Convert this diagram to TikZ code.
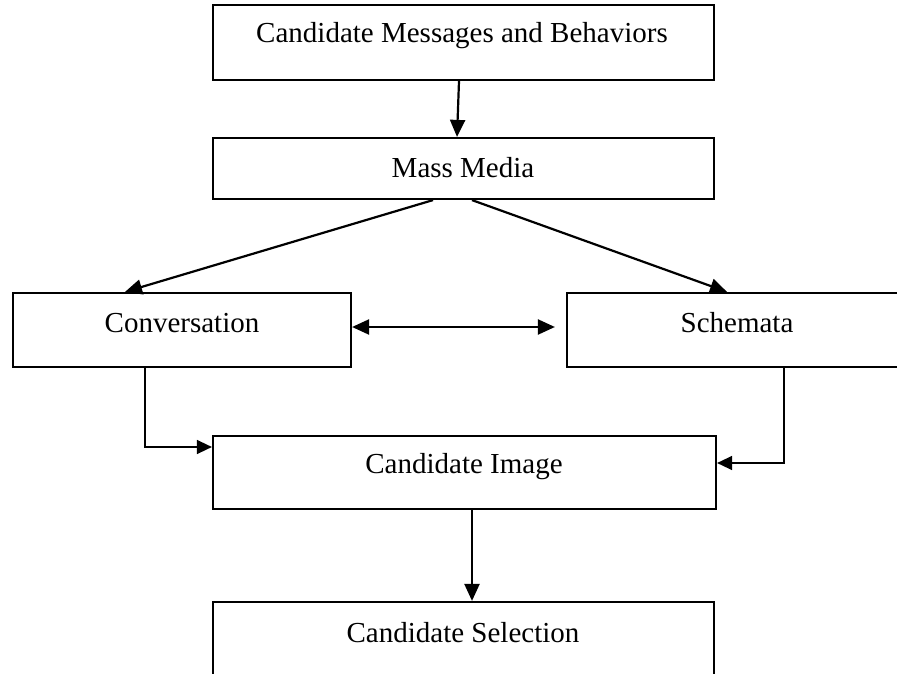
\documentclass[tikz,border=0pt]{standalone}
\usepackage{fontspec}
\setmainfont{Liberation Serif}
\usetikzlibrary{arrows.meta}
\begin{document}
\begin{tikzpicture}[x=1pt,y=-1pt,
  box/.style={draw=black, line width=2.2pt, rectangle, inner sep=0pt, fill=white},
  txt/.style={inner sep=0pt, font=\fontsize{29}{34}\selectfont},
  conn/.style={line width=2.2pt, -{Triangle[length=17pt,width=15pt]}},
  thin conn/.style={line width=1.4pt, -{Triangle[length=15pt,width=14pt]}},
  both conn/.style={line width=2.2pt, {Triangle[length=17pt,width=15pt]}-{Triangle[length=17pt,width=15pt]}}]
\useasboundingbox (0,0) rectangle (897,674);
\fill[white] (0,0) rectangle (897,674);
% boxes
\node[box, minimum width=501pt, minimum height=75pt] (b1) at (463.5,42.5) {};
\node[box, minimum width=501pt, minimum height=61pt] (b2) at (463.5,168.5) {};
\node[box, minimum width=338pt, minimum height=74pt] (b3) at (182,330) {};
\node[box, minimum width=343pt, minimum height=74pt] (b4) at (738.5,330) {};
\node[box, minimum width=503pt, minimum height=73pt] (b5) at (464.5,472.5) {};
\node[box, minimum width=501pt, minimum height=90pt] (b6) at (463.5,647) {};
% texts
\node[txt] (t1) at (462,36) {Candidate Messages and Behaviors};
\node[txt] (t2) at (463,168) {Mass Media};
\node[txt] (t3) at (182,323) {Conversation};
\node[txt] (t4) at (737,323) {Schemata};
\node[txt] (t5) at (464,467) {Candidate Image};
\node[txt] (t6) at (463,633) {Candidate Selection};
% connectors
\draw[conn] ([xshift=-4.5pt]b1.south) -- ([xshift=-6.5pt]b2.north);
\draw[conn] ([xshift=-30.5pt]b2.south) -- ([xshift=-57pt]b3.north);
\draw[conn] ([xshift=8.5pt]b2.south) -- ([xshift=-11.5pt]b4.north);
\draw[both conn] ([yshift=3pt]b3.east) -- ([xshift=-11pt,yshift=3pt]b4.west);
\draw[thin conn] ([xshift=-37pt]b3.south) |- ([yshift=25.5pt]b5.west);
\draw[thin conn] ([xshift=45.5pt]b4.south) |- ([yshift=9.5pt]b5.east);
\draw[conn] ([xshift=7.5pt]b5.south) -- ([xshift=8.5pt]b6.north);
\end{tikzpicture}
\end{document}
